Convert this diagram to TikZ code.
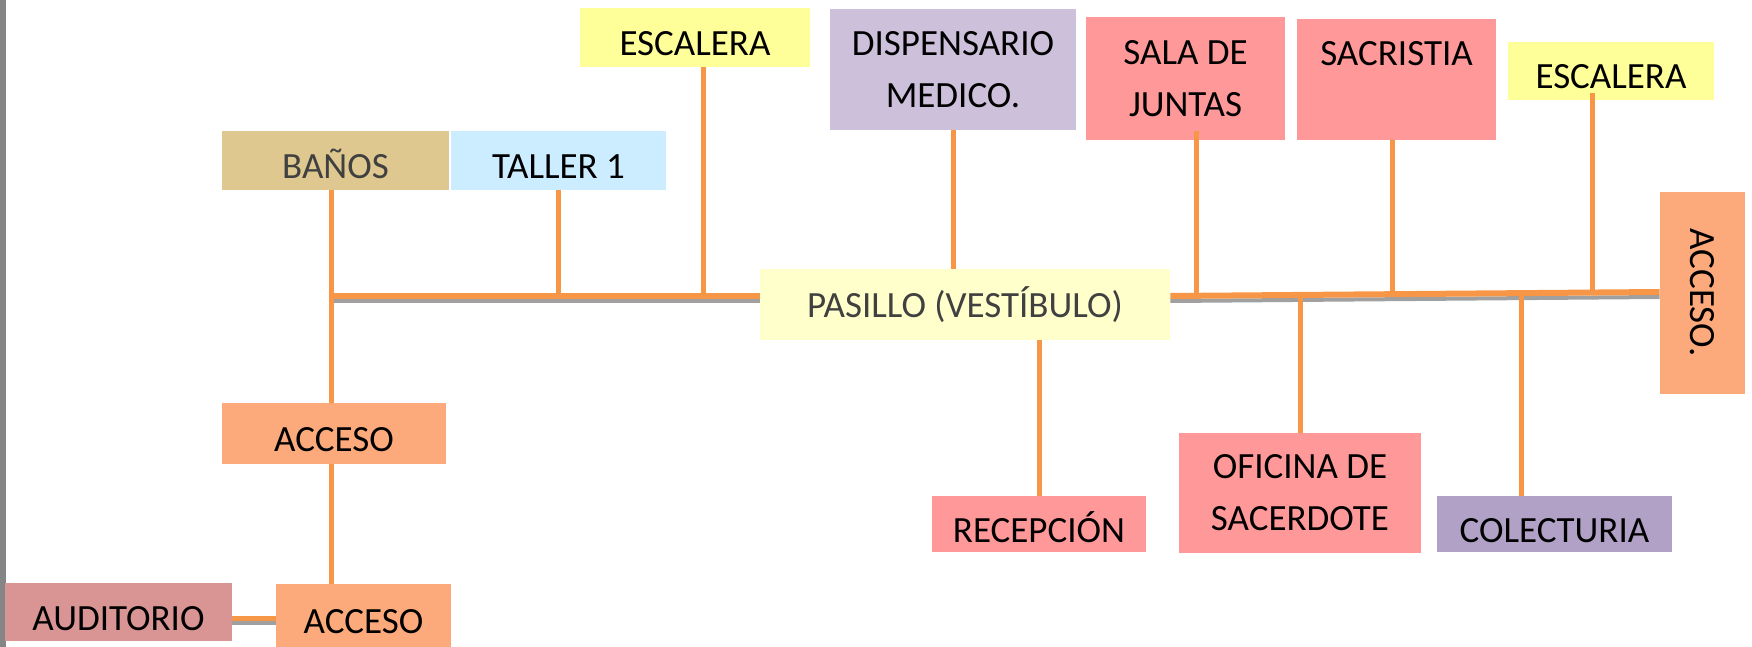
\documentclass[tikz,border=0pt]{standalone}
\usepackage{fontspec}
\setmainfont{Carlito}
\usepackage{xcolor}
\usetikzlibrary{calc}
\definecolor{stairyellow}{HTML}{FFFF99}
\definecolor{halllight}{HTML}{FFFFCC}
\definecolor{medlilac}{HTML}{CCC0DA}
\definecolor{bathtan}{HTML}{DEC88F}
\definecolor{shopblue}{HTML}{CCECFF}
\definecolor{officepink}{HTML}{FF9999}
\definecolor{accessorange}{HTML}{FCAA7C}
\definecolor{audrose}{HTML}{D99594}
\definecolor{collectviolet}{HTML}{B2A1C7}
\definecolor{wireorange}{HTML}{F79646}
\definecolor{shadowgray}{HTML}{A0A0A0}
\definecolor{edgegray}{HTML}{858585}
\definecolor{textgray}{HTML}{404040}

\begin{document}
\begin{tikzpicture}[
    x=0.5pt, y=-0.5pt,
    room/.style={inner sep=0pt, align=center, text=black, font=\fontsize{18.5}{26}\selectfont},
    oneline/.style={text height=18pt, text depth=0pt},
    dims/.style 2 args={minimum width=#1*0.5pt, minimum height=#2*0.5pt},
    wire/.style={draw=wireorange, line width=2.5pt},
    mainwire/.style={draw=wireorange, line width=3pt},
    wireshadow/.style={draw=shadowgray, line width=2pt}
]
\useasboundingbox (0,0) rectangle (1752,647);
\fill[edgegray] (0,0) rectangle (6,647);
% rooms above the hall
\node[room, oneline, dims={227}{59}, fill=bathtan, text=textgray] (banos) at (335.5,160.5) {BAÑOS};
\node[room, oneline, dims={215}{59}, fill=shopblue] (taller) at (558.5,160.5) {TALLER 1};
\node[room, oneline, dims={230}{59}, fill=stairyellow] (esc1) at (695,37.5) {ESCALERA};
\node[room, dims={246}{121}, fill=medlilac] (disp) at (953,69.5) {DISPENSARIO\\MEDICO.};
\node[room, dims={199}{123}, fill=officepink] (sala) at (1185.5,78.5) {SALA DE\\JUNTAS};
\node[room, dims={199}{121}, fill=officepink] (sacr) at (1396.5,79.5) {SACRISTIA\\\mbox{}};
\node[room, oneline, dims={206}{58}, fill=stairyellow] (esc2) at (1611,71) {ESCALERA};
\node[room, dims={85}{202}, fill=accessorange] (accR) at (1702.5,293) {\rotatebox{-90}{ACCESO.}};
% hall
\node[room, dims={410}{71}, fill=halllight, text=textgray] (pas) at (965,304.5) {PASILLO (VESTÍBULO)};
% rooms below the hall
\node[room, oneline, dims={214}{56}, fill=officepink] (rec) at (1039,524) {RECEPCIÓN};
\node[room, dims={242}{120}, fill=officepink] (ofi) at (1300,493) {OFICINA DE\\SACERDOTE};
\node[room, oneline, dims={235}{56}, fill=collectviolet] (col) at (1554.5,524) {COLECTURIA};
\node[room, oneline, dims={224}{61}, fill=accessorange] (acc1) at (334,433.5) {ACCESO};
\node[room, oneline, dims={175}{63}, fill=accessorange] (acc2) at (363.5,615.5) {ACCESO};
\node[room, oneline, dims={227}{58}, fill=audrose] (aud) at (118.5,612) {AUDITORIO};
% junctions of the main corridor line
\coordinate (jL) at (331,296);
\coordinate (jM) at (pas.west |- jL);
\coordinate (jN) at (pas.east |- jL);
\coordinate (jR) at ($(accR.west)+(0,-1)$);
% main corridor
\draw[wireshadow] ($(jL)+(0,5)$) -- ($(jM)+(0,5)$);
\draw[wireshadow] ($(jN)+(0,5)$) -- ($(jR)+(0,5)$);
\draw[mainwire] (jL) -- (jM);
\draw[mainwire] (jN) -- (jR);
% branches
\draw[wire] (banos.south -| jL) -- (acc1.north -| jL);
\draw[wire] (acc1.south -| jL) -- (acc2.north -| jL);
\draw[wire] (taller.south) -- (taller.south |- jL);
\draw[wire] ($(esc1.south)+(8,0)$) -- ($(esc1.south |- jL)+(8,-2)$);
\draw[wire] (disp.south) -- (disp.south |- pas.north);
\draw[wire] ($(sala.south)+(11,-9)$) -- ($(sala.south |- jN)+(11,0)$);
\draw[wire] ($(sacr.south)+(-4,0)$) -- ($(sacr.south |- jN)+(-4,-2)$);
\draw[wire] ($(esc2.south)+(-19,-7)$) -- ($(esc2.south |- jN)+(-19,-1)$);
\draw[wire] (rec.north) -- (rec.north |- pas.south);
\draw[wire] (ofi.north) -- (ofi.north |- jN);
\draw[wire] ($(col.north)+(-33,0)$) -- ($(col.north |- jN)+(-33,0)$);
% auditorium link
\draw[wireshadow] ($(aud.east)+(0,11)$) -- ($(aud.east -| acc2.west)+(0,11)$);
\draw[wire] ($(aud.east)+(0,6)$) -- ($(aud.east -| acc2.west)+(0,6)$);
\end{tikzpicture}
\end{document}
